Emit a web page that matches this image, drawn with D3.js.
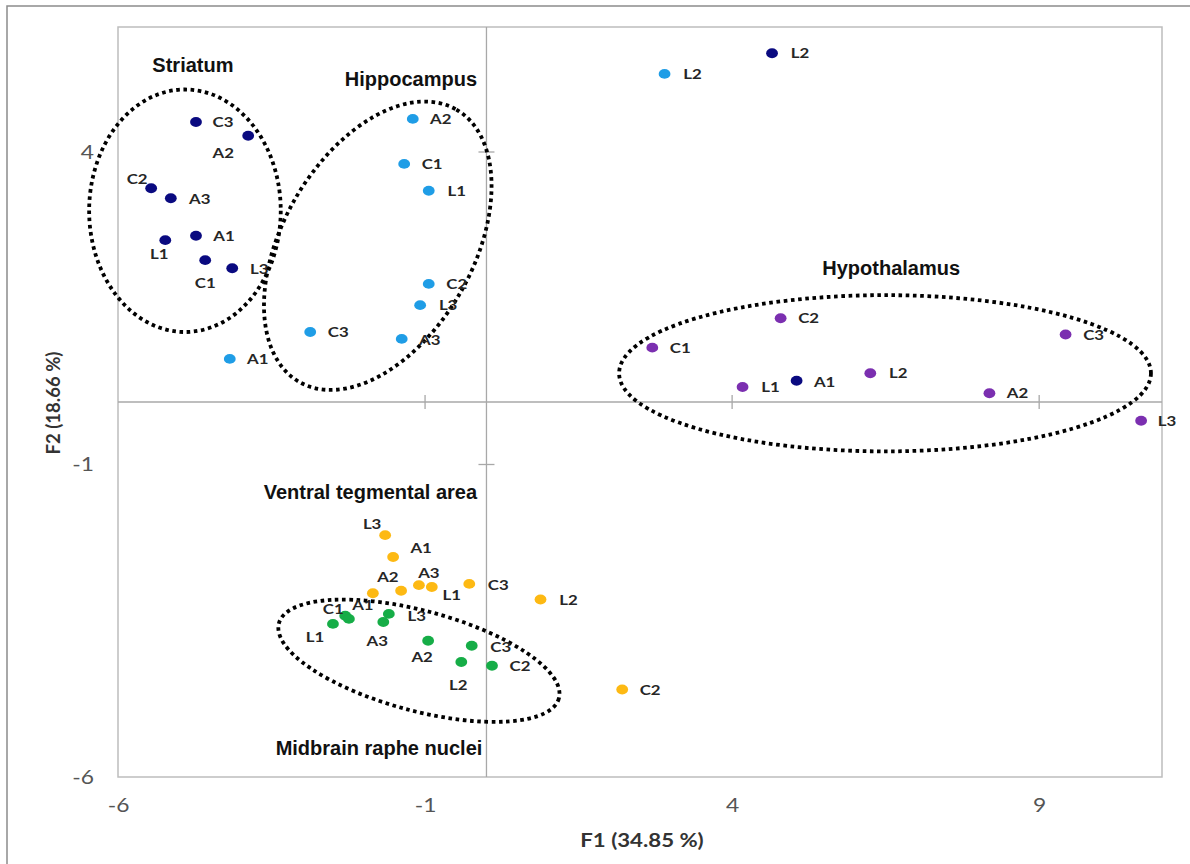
<!DOCTYPE html>
<html><head><meta charset="utf-8">
<script src="https://cdn.jsdelivr.net/npm/d3@7"></script>
<style>body{margin:0;background:#fff}</style>
</head><body><svg id="chart" width="1190" height="864"></svg>
<script>
// ================= DATA =================
const xTickValues = [-6, -1, 4, 9];
const yTickValues = [4, -1, -6];
const xTitle = "F1 (34.85 %)";
const yTitle = "F2 (18.66 %)";

// Striatum (navy markers; the last navy "A1" sits inside the hypothalamus cluster)
const striatumLabels = ["C3", "A2", "C2", "A3", "A1", "L1", "C1", "L3", "L2", "A1"];
const striatumF1     = [-4.73, -3.88, -5.46, -5.14, -4.73, -5.23, -4.58, -4.14, 4.65, 5.05];
const striatumF2     = [4.48, 4.26, 3.42, 3.26, 2.66, 2.59, 2.27, 2.14, 5.58, 0.34];

const hippocampusLabels = ["A2", "C1", "L1", "C2", "L3", "A3", "C3", "A1", "L2"];
const hippocampusF1     = [-1.20, -1.34, -0.94, -0.94, -1.08, -1.38, -2.87, -4.18, 2.90];
const hippocampusF2     = [4.53, 3.81, 3.38, 1.89, 1.55, 1.01, 1.12, 0.69, 5.25];

const hypothalamusLabels = ["C2", "C1", "C3", "L2", "L1", "A2", "L3"];
const hypothalamusF1     = [4.79, 2.70, 9.43, 6.25, 4.17, 8.19, 10.66];
const hypothalamusF2     = [1.34, 0.87, 1.08, 0.46, 0.24, 0.14, -0.30];

const vtaLabels = ["L3", "A1", "A2", "C1", "A3", "L1", "C3", "L2", "C2"];
const vtaF1     = [-1.65, -1.52, -1.85, -1.39, -1.10, -0.89, -0.28, 0.88, 2.21];
const vtaF2     = [-2.13, -2.48, -3.06, -3.02, -2.93, -2.96, -2.91, -3.16, -4.60];

const rapheLabels = ["L1", "C1", "A1", "L3", "A3", "A2", "C3", "L2", "C2"];
const rapheF1     = [-2.50, -2.30, -2.24, -1.59, -1.68, -0.95, -0.24, -0.41, 0.09];
const rapheF2     = [-3.55, -3.42, -3.47, -3.39, -3.52, -3.82, -3.90, -4.16, -4.22];

// Cluster annotations (dotted ellipses + titles), in data units
const clusterNames  = ["Striatum", "Hippocampus", "Hypothalamus", "Ventral tegmental area", "Midbrain raphe nuclei"];
const clusterTitleF1 = [-4.78, -1.23, 6.59, -1.89, -1.75];
const clusterTitleF2 = [5.39, 5.17, 2.14, -1.44, -5.54];
const ellipseCx    = [-4.91, -1.77, 6.49, -1.10];
const ellipseCy    = [3.06, 2.50, 0.46, -4.14];
const ellipseA     = [1.56, 2.56, 4.33, 2.36];
const ellipseB     = [1.94, 1.52, 1.25, 0.80];
const ellipseAngle = [0, -60, 0, 15];

// ================= LAYOUT / STYLE =================
const W = 1190, H = 864;
const plot = {left: 118, right: 1162, top: 27, bottom: 777};
const STRETCH = 1.2;

const R = 28; // default: label to the right
const labelOffsets = {
  striatum:     [[27,0],[-25,17],[-14,-9],[29,1],[28,0],[-6,14],[0,23],[27,1],[28,0],[28,1]],
  hippocampus:  [[R,0],[R,0],[R,0],[R,0],[R,0],[R,1],[R,0],[R,0],[R,0]],
  hypothalamus: [[R,0],[R,0],[R,0],[R,0],[R,0],[R,0],[26,0]],
  vta:          [[-13,-11],[28,-9],[15,-16],null,[10,-12],[20,8],[29,1],[R,0],[R,0]],
  raphe:        [[-18,13],[-12,-7],[14,-14],[28,2],[-6,19],[-6,16],[29,1],[-3,23],[R,0]]
};

const series = [
  {key: "striatum",     color: "#0a0a80", labels: striatumLabels,     f1: striatumF1,     f2: striatumF2},
  {key: "hippocampus",  color: "#1f9de6", labels: hippocampusLabels,  f1: hippocampusF1,  f2: hippocampusF2},
  {key: "hypothalamus", color: "#7b2fb0", labels: hypothalamusLabels, f1: hypothalamusF1, f2: hypothalamusF2},
  {key: "vta",          color: "#fdb913", labels: vtaLabels,          f1: vtaF1,          f2: vtaF2},
  {key: "raphe",        color: "#16ad47", labels: rapheLabels,        f1: rapheF1,        f2: rapheF2}
];

const x = d3.scaleLinear().domain([-6, 11]).range([plot.left, plot.right]);
const y = d3.scaleLinear().domain([-6, 6]).range([plot.bottom, plot.top]);
const kx = x(1) - x(0), ky = y(0) - y(1);

const svg = d3.select("#chart");
svg.append("rect").attr("width", W).attr("height", H).attr("fill", "#fff");

function stretch(sel, f) {
  sel.each(function () {
    const w = this.getComputedTextLength();
    d3.select(this).attr("textLength", w * f).attr("lengthAdjust", "spacingAndGlyphs");
  });
}

// outer frame (open to the right / bottom as in the crop)
svg.append("rect").attr("x", 7).attr("y", 6).attr("width", W + 30).attr("height", H + 30)
  .attr("fill", "none").attr("stroke", "#8c8c8c").attr("stroke-width", 1.5);

// plot box
svg.append("rect").attr("x", plot.left).attr("y", plot.top)
  .attr("width", plot.right - plot.left).attr("height", plot.bottom - plot.top)
  .attr("fill", "none").attr("stroke", "#bdbdbd").attr("stroke-width", 1.5);

// zero lines
svg.append("line").attr("x1", x(0)).attr("x2", x(0)).attr("y1", plot.top).attr("y2", plot.bottom)
  .attr("stroke", "#a8a8a8").attr("stroke-width", 1.3);
svg.append("line").attr("x1", plot.left).attr("x2", plot.right).attr("y1", y(0)).attr("y2", y(0))
  .attr("stroke", "#a8a8a8").attr("stroke-width", 1.3);

// cross tick marks on the zero lines
svg.append("g").selectAll("line").data(xTickValues.filter(v => v !== -6)).join("line")
  .attr("x1", d => x(d)).attr("x2", d => x(d)).attr("y1", y(0) - 7).attr("y2", y(0) + 7)
  .attr("stroke", "#a8a8a8").attr("stroke-width", 1.3);
svg.append("g").selectAll("line").data(yTickValues.filter(v => v !== -6)).join("line")
  .attr("x1", x(0) - 8).attr("x2", x(0) + 8).attr("y1", d => y(d)).attr("y2", d => y(d))
  .attr("stroke", "#a8a8a8").attr("stroke-width", 1.3);

// axes (labels only)
const xAxisG = svg.append("g").attr("transform", `translate(0,${plot.bottom})`)
  .call(d3.axisBottom(x).tickValues(xTickValues).tickSize(0).tickPadding(22).tickFormat(d => String(d)));
const yAxisG = svg.append("g").attr("transform", `translate(${plot.left},0)`)
  .call(d3.axisLeft(y).tickValues(yTickValues).tickSize(0).tickPadding(24).tickFormat(d => String(d)));
[xAxisG, yAxisG].forEach(g => {
  g.select(".domain").remove();
  g.selectAll("text").attr("font-family", "Lato, 'Open Sans', sans-serif").attr("font-size", 19)
    .attr("fill", "#555");
  stretch(g.selectAll("text"), STRETCH);
});

// axis titles
const xt = svg.append("text").attr("x", 642).attr("y", 847).attr("text-anchor", "middle")
  .attr("font-family", "Lato, 'Open Sans', sans-serif").attr("font-weight", 700).attr("font-size", 18.5)
  .attr("fill", "#333").text(xTitle);
stretch(xt, STRETCH);
svg.append("text").attr("transform", "translate(60,403) rotate(-90)").attr("text-anchor", "middle")
  .attr("font-family", "Lato, 'Open Sans', sans-serif").attr("font-weight", 700).attr("font-size", 18.5)
  .attr("fill", "#333").text(yTitle);

// dotted cluster ellipses
svg.append("g").selectAll("ellipse").data(ellipseCx.map((cx, i) => i)).join("ellipse")
  .attr("transform", i => `translate(${x(ellipseCx[i])},${y(ellipseCy[i])}) rotate(${ellipseAngle[i]})`)
  .attr("rx", i => ellipseA[i] * kx).attr("ry", i => ellipseB[i] * ky)
  .attr("fill", "none").attr("stroke", "#000").attr("stroke-width", 3.8)
  .attr("stroke-dasharray", "3.6 3.6");

// points
const pts = [];
series.forEach(s => s.labels.forEach((lab, i) => pts.push({
  key: s.key, color: s.color, label: lab, f1: s.f1[i], f2: s.f2[i], off: labelOffsets[s.key][i]
})));

svg.append("g").selectAll("ellipse").data(pts).join("ellipse")
  .attr("cx", d => x(d.f1)).attr("cy", d => y(d.f2))
  .attr("rx", 5.9).attr("ry", 4.9).attr("fill", d => d.color);

const lbl = svg.append("g").selectAll("text").data(pts.filter(d => d.off)).join("text")
  .attr("x", d => x(d.f1) + d.off[0]).attr("y", d => y(d.f2) + d.off[1])
  .attr("dy", "0.36em").attr("text-anchor", "middle")
  .attr("font-family", "Lato, 'Open Sans', sans-serif").attr("font-weight", 700).attr("font-size", 14)
  .attr("fill", "#262626").text(d => d.label);
stretch(lbl, STRETCH);

// cluster titles
svg.append("g").selectAll("text").data(clusterNames).join("text")
  .attr("x", (d, i) => x(clusterTitleF1[i])).attr("y", (d, i) => y(clusterTitleF2[i]))
  .attr("dy", "0.36em").attr("text-anchor", "middle")
  .attr("font-family", "'Liberation Sans', Arial, sans-serif").attr("font-weight", 700).attr("font-size", 20)
  .attr("fill", "#111").text(d => d);
</script>
</body></html>
